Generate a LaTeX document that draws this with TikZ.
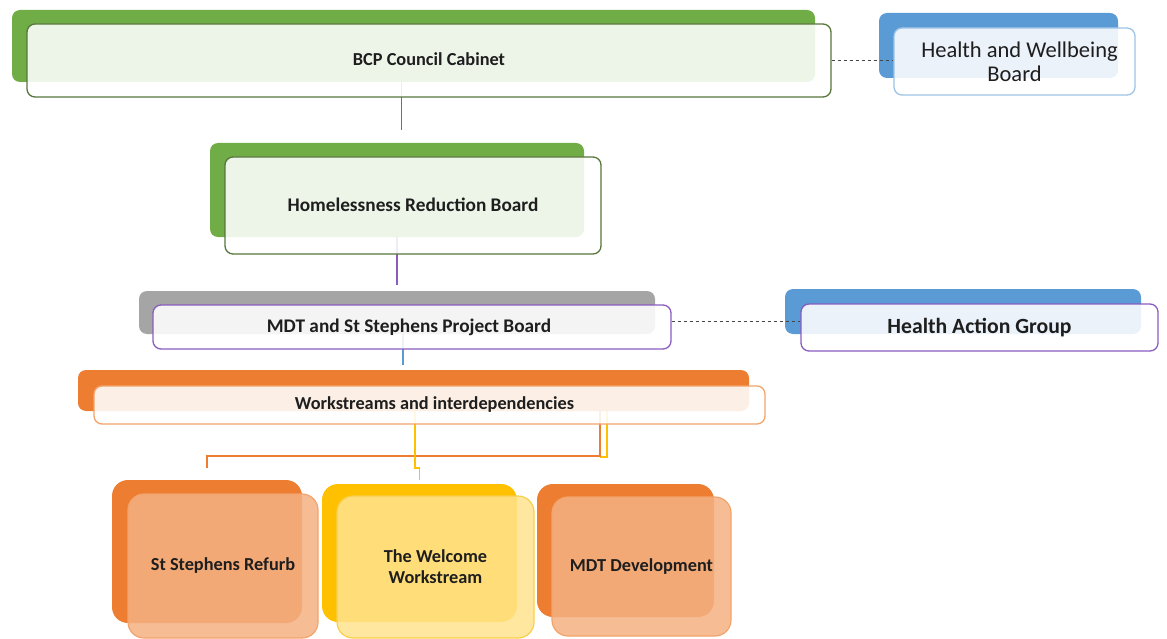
\documentclass[tikz,border=0pt]{standalone}
\usepackage{fontspec}
\setmainfont{Carlito}
\usetikzlibrary{calc}
\definecolor{grn}{HTML}{70AD47}
\definecolor{grnline}{HTML}{56763A}
\definecolor{blu}{HTML}{5B9BD5}
\definecolor{bluline}{HTML}{9DC3E6}
\definecolor{gry}{HTML}{A5A5A5}
\definecolor{pur}{HTML}{8A5CC0}
\definecolor{org}{HTML}{ED7D31}
\definecolor{orgline}{HTML}{F2A36B}
\definecolor{orglight}{HTML}{F4B183}
\definecolor{yel}{HTML}{FFC000}
\definecolor{yelline}{HTML}{F9CF4A}
\definecolor{yellight}{HTML}{FFE38F}
\definecolor{txt}{HTML}{1E1E1E}
\definecolor{dsh}{HTML}{454545}
\definecolor{lnkgrn}{HTML}{667A56}
\tikzset{
  back/.style={rounded corners=8pt, inner sep=0pt, draw=none},
  front/.style={rounded corners=8pt, line width=1.3pt, fill=white, fill opacity=0.88,
    text opacity=1, inner sep=0pt, align=center, text=txt},
  bigback/.style={rounded corners=16pt, inner sep=0pt, draw=none},
  bigfront/.style={rounded corners=16pt, line width=1.2pt, fill opacity=0.85,
    text opacity=1, inner sep=0pt, align=center, text=txt},
  lbl/.style={font=\bfseries\fontsize{18.3}{21}\selectfont},
  dashlink/.style={draw=dsh, line width=1pt, dash pattern=on 3.5pt off 2.5pt},
  link/.style={line width=1.6pt}
}
\begin{document}
\begin{tikzpicture}[x=1pt,y=-1pt]
\useasboundingbox (0,0) rectangle (1167,639);
% back shapes
\node[back, fill=grn, minimum width=803pt, minimum height=72pt] (bcpback) at (413.5,46) {};
\node[back, fill=blu, minimum width=239pt, minimum height=65pt] (hwbback) at (998.5,45.5) {};
\node[back, fill=grn, minimum width=374pt, minimum height=94pt] (hrbback) at (397,190) {};
\node[back, fill=gry, minimum width=516pt, minimum height=43pt] (mdtback) at (397,312.5) {};
\node[back, fill=blu, minimum width=356pt, minimum height=45pt] (hagback) at (963,311.5) {};
\node[back, fill=org, minimum width=671pt, minimum height=41pt] (wsback) at (413.5,390.5) {};
\node[bigback, fill=org, minimum width=190pt, minimum height=143pt] (ssrback) at (207,551.5) {};
\node[bigback, fill=yel, minimum width=195pt, minimum height=138pt] (twwback) at (419.5,553) {};
\node[bigback, fill=org, minimum width=177pt, minimum height=133pt] (mddback) at (625.5,550.5) {};
% connectors (drawn behind the front boxes)
\draw[link, draw=lnkgrn] ([xshift=-12pt]bcpback.south) -- ([xshift=-12pt,yshift=13pt]bcpback.south |- hrbback.north);
\draw[link, draw=pur] (hrbback.south) -- ([yshift=6pt]hrbback.south |- mdtback.north);
\draw[link, draw=blu] ([xshift=6pt]mdtback.south) -- ([xshift=6pt,yshift=5pt]mdtback.south |- wsback.north);
\coordinate (yj) at (600,457);
\draw[link, draw=yel] ([xshift=193.5pt]wsback.south) |- (yj);
\draw[link, draw=org] ([xshift=186.5pt]wsback.south) |- ([yshift=24pt]ssrback.north) -- ([yshift=12pt]ssrback.north);
\draw[link, draw=yel] ([xshift=1.5pt]wsback.south) |- ([yshift=16pt]twwback.north) -- ([yshift=4pt]twwback.north);
% front shapes
\node[front, draw=grnline, minimum width=804pt, minimum height=73pt, lbl] (bcp) at (429,60.5) {\raisebox{2pt}{BCP Council Cabinet}};
\node[front, draw=bluline, minimum width=241pt, minimum height=67pt, font=\fontsize{22.5}{24}\selectfont] (hwb) at (1014.5,61.5) {\hspace*{10pt}Health and Wellbeing\\Board};
\node[front, draw=grnline, minimum width=376pt, minimum height=97pt, font=\bfseries\fontsize{19.3}{22}\selectfont] (hrb) at (413,205.5) {\raisebox{1pt}{Homelessness Reduction Board}};
\node[front, draw=pur, minimum width=518pt, minimum height=44pt, font=\bfseries\fontsize{19.3}{22}\selectfont] (mdt) at (412,327) {\hspace*{-6pt}\raisebox{2pt}{MDT and St Stephens Project Board}};
\node[front, draw=pur, minimum width=357pt, minimum height=47pt, font=\bfseries\fontsize{21.7}{24}\selectfont] (hag) at (979.5,327.5) {Health Action Group};
\node[front, draw=orgline, minimum width=671pt, minimum height=38pt, lbl] (ws) at (429.5,405) {\hspace*{10pt}Workstreams and interdependencies};
\node[bigfront, fill=orglight, draw=orgline, minimum width=190pt, minimum height=144pt, lbl] (ssr) at (223,566) {St Stephens Refurb};
\node[bigfront, fill=yellight, draw=yelline, minimum width=197pt, minimum height=142pt, lbl] (tww) at (435.5,567) {The Welcome\\Workstream};
\node[bigfront, fill=orglight, draw=orgline, minimum width=179pt, minimum height=139pt, lbl] (mdd) at (641.5,566.5) {MDT Development};
% dashed links
\draw[dashlink] (bcp.east) -- (bcp.east -| hwb.west);
\path ([yshift=6pt]mdt.east) coordinate (dm);
\draw[dashlink] (dm) -- (dm -| hag.west);
\end{tikzpicture}
\end{document}
